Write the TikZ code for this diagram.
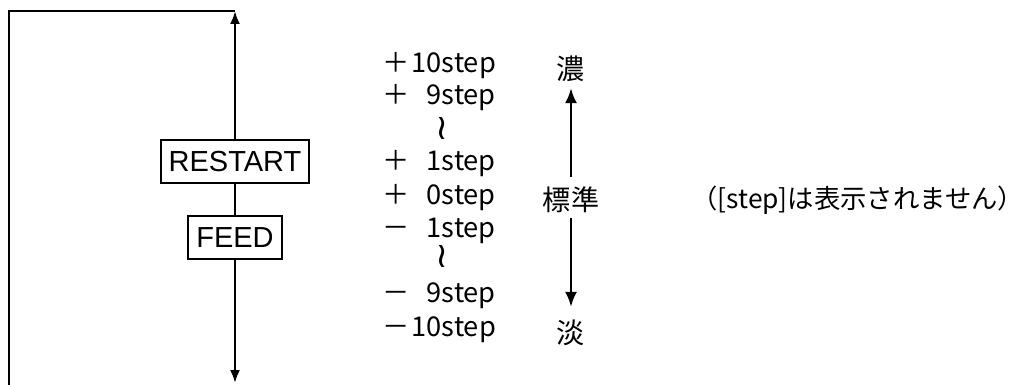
\documentclass[tikz,border=0pt]{standalone}
\usepackage{fontspec}
\setmainfont{Noto Sans CJK JP}
\newfontfamily\keyfont{Liberation Sans}
\newfontfamily\symfont{DejaVu Sans}
\usetikzlibrary{arrows.meta}

\tikzset{
  keybox/.style={draw, line width=1.3pt, font=\keyfont\fontsize{16.5}{18}\selectfont,
    minimum height=0.86cm, inner xsep=0.16cm, inner ysep=0pt},
  lvl/.style={font=\fontsize{15.5}{17}\selectfont, inner sep=0pt},
  wave/.style={inner sep=0pt, font=\symfont\fontsize{20}{22}\selectfont,
    text height=0.55em, text depth=0pt},
  tip/.style={-{Latex[length=0.26cm, width=0.2cm]}},
  bigtip/.style={-{Latex[length=0.3cm, width=0.24cm]}, line width=1.5pt},
}

\begin{document}
\begin{tikzpicture}[x=0.02cm, y=-0.02cm, line width=1.3pt]
    \useasboundingbox (0,0) rectangle (1024,385);
    \node[keybox] (restart) at (235,161.5) {RESTART};
    \node[keybox] (feed) at (235,237.5) {FEED};
    \coordinate (top) at (235,11);
    \coordinate (bot) at (235,383);
    \coordinate (corner) at (9,385);
    \draw (corner) |- (top);
    \draw[tip] (restart) -- (top);
    \draw (restart) -- (feed);
    \draw[tip] (feed) -- (bot);

    \foreach \y/\s/\t in {68/＋/10step, 100/＋/9step, 166/＋/1step, 200/＋/0step,
                          233/－/1step, 298/－/9step, 332/－/10step} {
        \node[lvl, anchor=mid west] (sign\y) at (381,\y) {\s};
        \node[lvl, anchor=mid east] (lvl\y) at (497,\y) {\t};
    }
    \node[wave] (gap1) at (442,135) {≀};
    \node[wave] (gap2) at (442,263) {≀};

    \node[lvl, font=\fontsize{16}{18}\selectfont] (dark) at (571,69) {濃};
    \node[lvl, font=\fontsize{16}{18}\selectfont] (std) at (571,200) {標準};
    \node[lvl, font=\fontsize{16}{18}\selectfont] (light) at (571,333) {淡};
    \draw[bigtip, shorten <=0.18cm, shorten >=0.1cm] (std) -- (dark);
    \draw[bigtip, shorten <=0.08cm, shorten >=0.24cm] (std) -- (light);

    \node[lvl, font=\fontsize{15}{17}\selectfont, anchor=east] (note) at (999,200)
        {（[step]は表示されません\rlap{）}};
\end{tikzpicture}
\end{document}
